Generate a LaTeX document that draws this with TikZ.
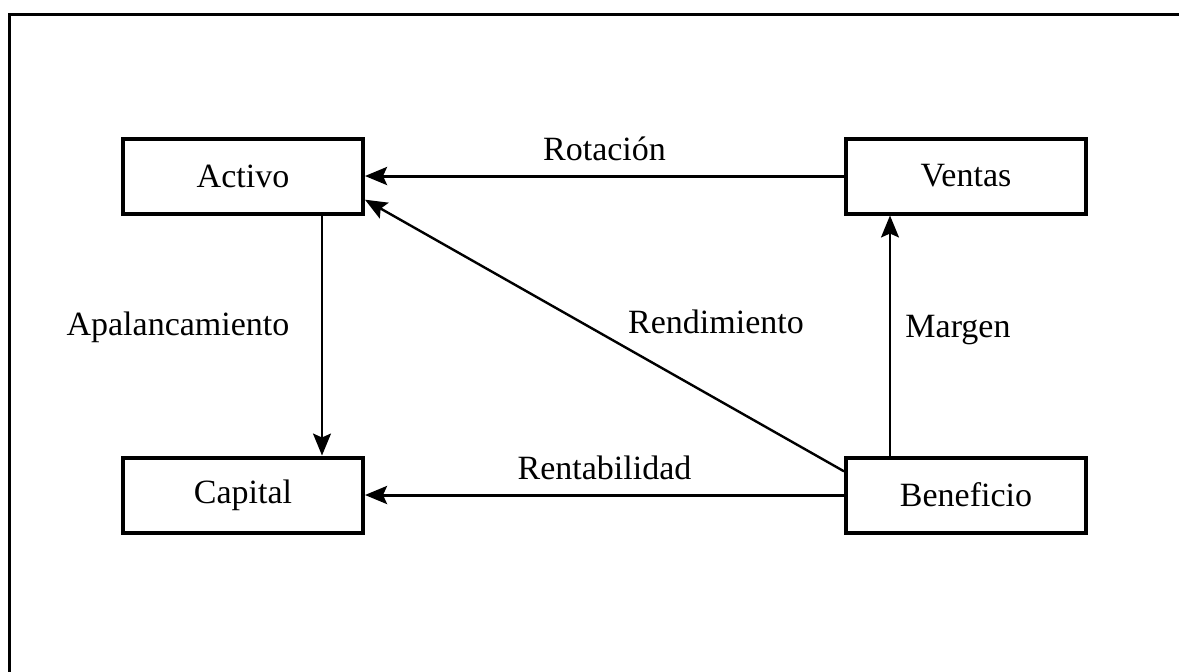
\documentclass[tikz,border=0pt]{standalone}
\usepackage{fontspec}
\setmainfont{Liberation Serif}
\usetikzlibrary{arrows.meta,calc}
\tikzset{
  caja/.style={draw,line width=2pt,minimum width=120pt,minimum height=37.5pt,inner sep=0pt},
  flecha/.style={line width=1.5pt,-{Stealth[length=11pt,width=9pt,inset=2pt]}},
  etiqueta/.style={inner sep=1pt}
}
\begin{document}
\begin{tikzpicture}[x=0.5pt,y=-0.5pt,font=\fontsize{17}{20}\selectfont]
        \useasboundingbox (0,0) rectangle (1179,671);
        \clip (0,0) rectangle (1179,671);
        % marco
        \draw[line width=1.5pt] (1200,14) -- (9,14) -- (9,700);
        \node[caja] (activo) at (243,176) {Activo};
        \node[caja] (ventas) at (966,176) {Ventas};
        \node[caja] (capital) at (243,495) {Capital};
        \node[caja] (beneficio) at (966,495) {Beneficio};
        \draw[flecha] (ventas) -- node[etiqueta,above=6pt] (rotacion) {Rotación} (activo);
        \draw[flecha] (beneficio) -- node[etiqueta,above=6pt] (rentab) {Rentabilidad} (capital);
        \draw[flecha,line width=1pt] ([xshift=39.5pt]activo.south) -- ([xshift=39.5pt]capital.north);
        \draw[flecha,line width=1pt] ([xshift=-38pt]beneficio.north) -- ([xshift=-38pt]ventas.south);
        \draw[flecha,line width=1.2pt] ($(beneficio.north west)!0.4!(beneficio.west)$) -- ($(activo.south east)!0.4!(activo.east)$);
        \node[etiqueta] (apal) at (178,327) {Apalancamiento};
        \node[etiqueta] (rend) at (716,322) {Rendimiento};
        \node[etiqueta] (margen) at (958,330) {Margen};
\end{tikzpicture}
\end{document}
